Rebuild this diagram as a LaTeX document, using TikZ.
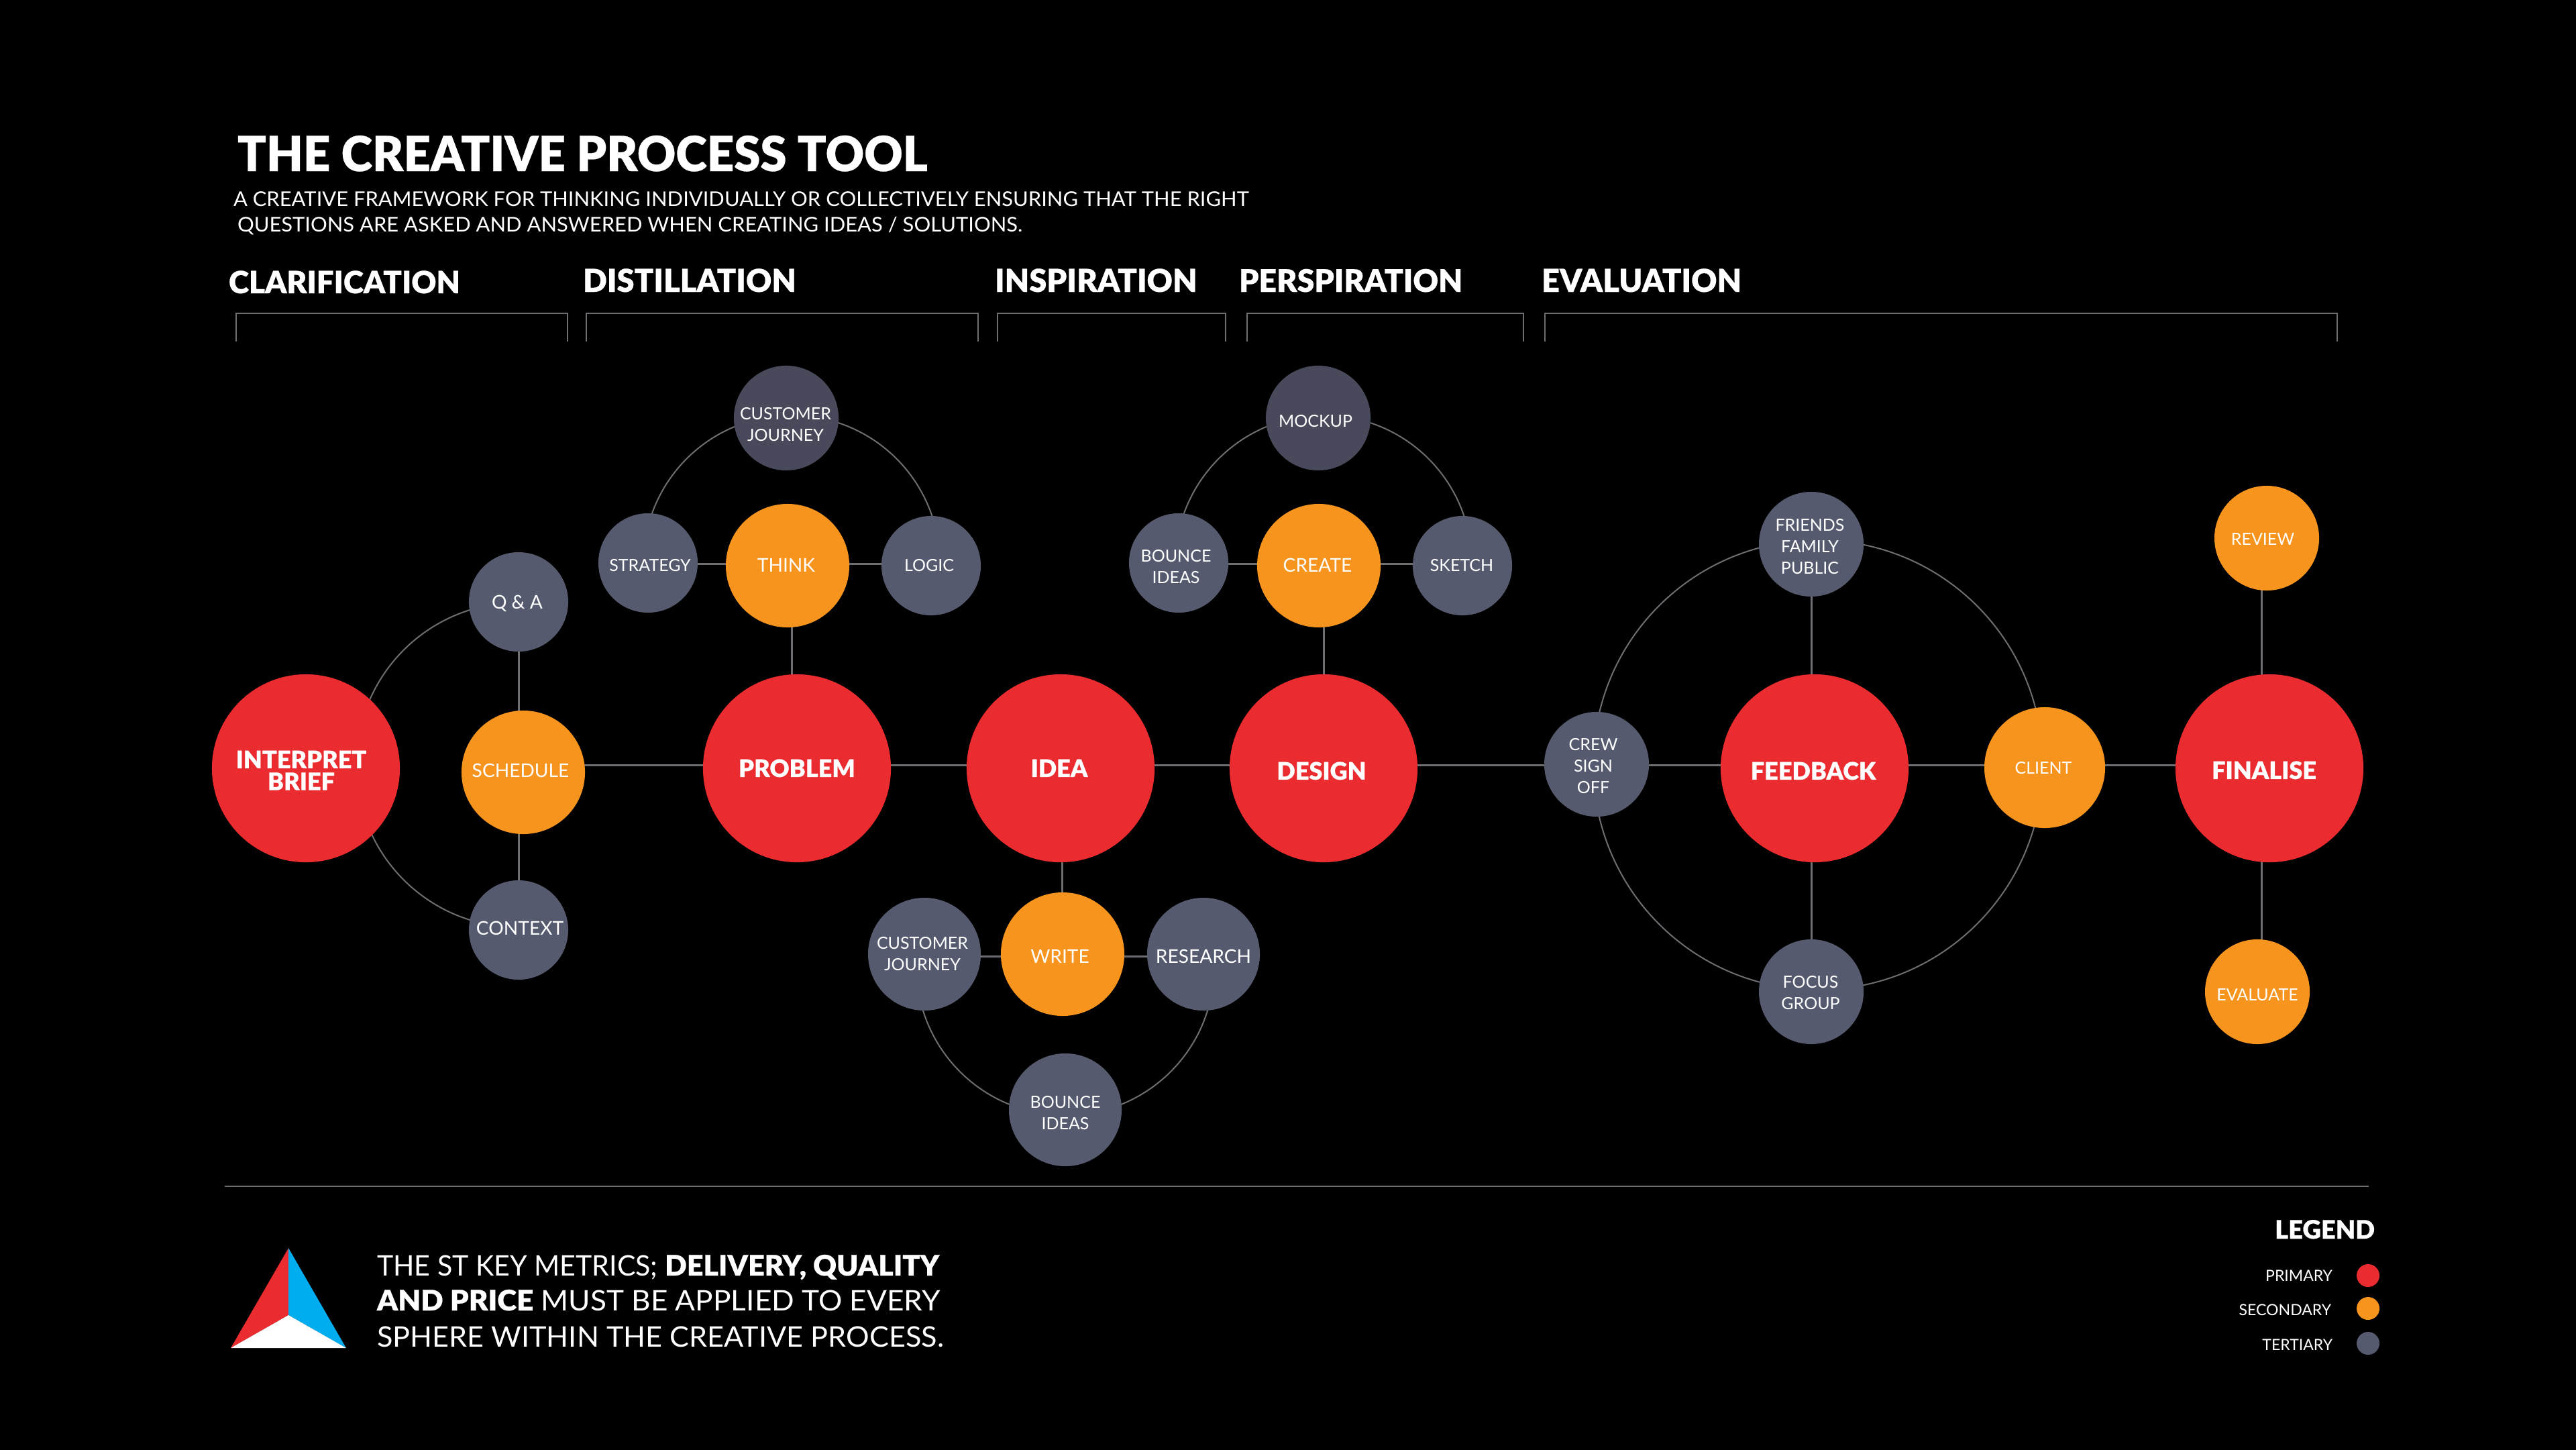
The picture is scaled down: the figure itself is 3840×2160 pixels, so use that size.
\documentclass[tikz,border=0pt]{standalone}
\usepackage{fontspec}
\usetikzlibrary{backgrounds,calc}
\setmainfont{Lato}
\newfontfamily\blk[FakeBold=0.4]{Lato Black}
\newfontfamily\blkn[FakeBold=0.4,FakeStretch=0.98]{Lato Black}
\newfontfamily\blka[FakeBold=0.4,FakeStretch=1.02]{Lato Black}
\newfontfamily\blkb[FakeBold=0.4,FakeStretch=1.04]{Lato Black}
\newfontfamily\lgt[FakeStretch=1.022]{Lato}
\newfontfamily\mta[FakeStretch=0.975]{Lato}
\newfontfamily\mtb[FakeStretch=1.047]{Lato}
\newfontfamily\mtc[FakeStretch=1.024]{Lato}
\definecolor{cred}{HTML}{EA2B2F}
\definecolor{corange}{HTML}{F7941E}
\definecolor{cgrey}{HTML}{565A6E}
\definecolor{cdark}{HTML}{484A5C}
\definecolor{cline}{HTML}{6D6E71}
\definecolor{cblue}{HTML}{00AEEF}
\newdimen\px \px=0.01cm
\newcommand\lbl[3]{\raisebox{\dimexpr-0.36em-(#2\px)-\px\relax}[0pt][0pt]{\makebox[0pt]{\kern\dimexpr#1\px*2\relax\begin{tabular}[t]{@{}c@{}}#3\end{tabular}}}}
\tikzset{
  ball/.style={circle,inner sep=0pt,outer sep=0pt,draw=none,text=white},
  prim/.style={ball,fill=cred,minimum size=2.8cm,font=\blk\fontsize{10.24}{9.4}\selectfont},
  sec/.style={ball,fill=corange,minimum size=1.84cm,font=\fontsize{8}{9.1}\selectfont},
  secs/.style={ball,fill=corange,minimum size=1.56cm,font=\fontsize{7.11}{9.1}\selectfont},
  ter/.style={ball,fill=cgrey,minimum size=1.48cm,font=\fontsize{7.11}{9.1}\selectfont},
  terb/.style={ball,fill=cgrey,minimum size=1.56cm,font=\fontsize{7.11}{9.1}\selectfont},
  terc/.style={ball,fill=cgrey,minimum size=1.68cm,font=\fontsize{7.11}{9.1}\selectfont},
  terd/.style={ball,fill=cdark,minimum size=1.56cm,font=\fontsize{7.11}{9.1}\selectfont},
  link/.style={draw=cline,line width=0.03cm},
  arcl/.style={draw=cline,line width=0.02cm},
  brk/.style={draw=cline,line width=0.02cm},
  txt/.style={inner sep=0pt,outer sep=0pt,text=white,anchor=base west},
  sect/.style={txt,font=\blk\fontsize{13.4}{14}\selectfont},
  subt/.style={txt,font=\lgt\fontsize{8.6}{10}\selectfont},
  metr/.style={txt,font=\fontsize{12}{14}\selectfont},
  lgd/.style={inner sep=0pt,outer sep=0pt,text=white,anchor=base east,font=\fontsize{6.55}{8}\selectfont},
  dot/.style={circle,inner sep=0pt,outer sep=0pt,minimum size=0.34cm},
}
\begin{document}
\begin{tikzpicture}[x=0.01cm,y=-0.01cm]
\useasboundingbox (0,0) rectangle (3840,2160);
\begin{pgfonlayer}{background}
\fill[black] (-10,-10) rectangle (3850,2170);
\end{pgfonlayer}
% heading
\node[txt,font=\blkn\fontsize{20.5}{24}\selectfont] (title) at (354,255) {THE CREATIVE PROCESS TOOL};
\node[subt] (sub1) at (348,307) {A CREATIVE FRAMEWORK FOR THINKING INDIVIDUALLY OR COLLECTIVELY ENSURING THAT THE RIGHT};
\node[subt] (sub2) at (354,345) {QUESTIONS ARE ASKED AND ANSWERED WHEN CREATING IDEAS / SOLUTIONS.};
\node[sect,font=\blk\fontsize{13}{14}\selectfont] (s1) at (341,437) {CLARIFICATION};
\node[sect] (s2) at (869,435) {DISTILLATION};
\node[sect] (s3) at (1483,435) {INSPIRATION};
\node[sect,font=\blk\fontsize{13.2}{14}\selectfont] (s4) at (1847,435) {PERSPIRATION};
\node[sect] (s5) at (2298,435) {EVALUATION};
\draw[brk] (352,509) -- (352,467) -- (845.5,467) -- (845.5,509);
\draw[brk] (874,509) -- (874,467) -- (1458,467) -- (1458,509);
\draw[brk] (1486.5,509) -- (1486.5,467) -- (1827,467) -- (1827,509);
\draw[brk] (1858.5,509) -- (1858.5,467) -- (2270.5,467) -- (2270.5,509);
\draw[brk] (2303,509) -- (2303,467) -- (3483.5,467) -- (3483.5,509);
% primary
\node[prim] (brief) at (456,1145) {\lbl{-7}{-14}{INTERPRET\\[-1pt]BRIEF}};
\node[prim] (problem) at (1188,1145) {\lbl{0}{-1}{PROBLEM}};
\node[prim] (idea) at (1581,1145) {\lbl{-2}{-1}{IDEA}};
\node[prim] (design) at (1973,1145) {\lbl{-3}{3}{DESIGN}};
\node[prim] (feedback) at (2705,1145) {\lbl{-2}{3}{FEEDBACK}};
\node[prim] (finalise) at (3383,1145) {\lbl{-8}{2}{FINALISE}};
% secondary
\node[sec] (schedule) at (780,1151) {\lbl{-4}{-4}{SCHEDULE}};
\node[sec] (think) at (1174,843) {\lbl{-2}{-2}{THINK}};
\node[sec] (write) at (1584,1422) {\lbl{-4}{2}{WRITE}};
\node[sec] (create) at (1966,843) {\lbl{-2}{-2}{CREATE}};
\node[sec,minimum size=1.8cm,font=\fontsize{7.11}{9.1}\selectfont] (client) at (3048,1144) {\lbl{-2}{-1}{CLIENT}};
\node[secs] (review) at (3379,802) {\lbl{-6}{0}{REVIEW}};
\node[secs] (evaluate) at (3365,1478) {\lbl{0}{3}{EVALUATE}};
% tertiary
\node[ter,font=\fontsize{8}{9.1}\selectfont] (qa) at (773,897) {\lbl{-2}{-1}{Q \& A}};
\node[ter,font=\fontsize{8}{9.1}\selectfont] (context) at (773,1386) {\lbl{2}{-4}{CONTEXT}};
\node[terd] (cj1) at (1172,623) {\lbl{-1}{-8}{CUSTOMER\\JOURNEY}};
\node[ter] (strategy) at (966,839) {\lbl{3}{2}{STRATEGY}};
\node[ter] (logic) at (1388,843) {\lbl{-3}{-2}{LOGIC}};
\node[terd] (mockup) at (1965,623) {\lbl{-4}{3}{MOCKUP}};
\node[ter] (bounce1) at (1757,839) {\lbl{-4}{-12}{BOUNCE\\IDEAS}};
\node[ter] (sketch) at (2180,843) {\lbl{-1}{-2}{SKETCH}};
\node[terc] (cj2) at (1378,1422) {\lbl{-3}{-18}{CUSTOMER\\JOURNEY}};
\node[terc,font=\fontsize{8}{9.1}\selectfont] (research) at (1794,1422) {\lbl{0}{2}{RESEARCH}};
\node[terc] (bounce2) at (1588,1654) {\lbl{0}{-13}{BOUNCE\\IDEAS}};
\node[terb] (crew) at (2380,1139) {\lbl{-5}{-31}{CREW\\SIGN\\OFF}};
\node[terb] (friends) at (2700,811) {\lbl{-2}{-30}{FRIENDS\\FAMILY\\PUBLIC}};
\node[terb] (focus) at (2700,1478) {\lbl{-1}{-16}{FOCUS\\GROUP}};
% connectors
\coordinate (mainy) at (0,1140);
\coordinate (v1) at (773,0);
\coordinate (v2) at (1180,0);
\coordinate (v3) at (1973,0);
\coordinate (v4) at (1583,0);
\coordinate (v5) at (2700,0);
\coordinate (v6) at (3371,0);
\coordinate (u1) at (0,840);
\coordinate (u2) at (0,1425);
\begin{pgfonlayer}{background}
\draw[link] (schedule |- mainy) -- (problem |- mainy) -- (idea |- mainy) -- (design |- mainy) -- (crew |- mainy) -- (feedback |- mainy) -- (client |- mainy) -- (finalise |- mainy);
\draw[link] (v1 |- qa) -- (v1 |- schedule) -- (v1 |- context);
\draw[link] (v2 |- think) -- (v2 |- problem);
\draw[link] (v3 |- create) -- (v3 |- design);
\draw[link] (v4 |- idea) -- (v4 |- write);
\draw[link] (v5 |- friends) -- (v5 |- feedback) -- (v5 |- focus);
\draw[link] (v6 |- review) -- (v6 |- finalise) -- (v6 |- evaluate);
\draw[link] (strategy |- u1) -- (think |- u1) -- (logic |- u1);
\draw[link] (bounce1 |- u1) -- (create |- u1) -- (sketch |- u1);
\draw[link] (cj2 |- u2) -- (write |- u2) -- (research |- u2);
% arcs
\draw[arcl] ($(brief)+(75,-5)$) to[out=90,in=180] ($(qa)+(0,1)$);
\draw[arcl] ($(brief)+(75,-5)$) to[out=-90,in=180] ($(context)+(0,-4)$);
\draw[arcl] ($(strategy)+(-7,1)$) to[out=90,in=180] ($(cj1)+(8,-4)$) to[out=0,in=90] ($(logic)+(13,-3)$);
\draw[arcl] ($(bounce1)+(-5,1)$) to[out=90,in=180] ($(mockup)+(8,-4)$) to[out=0,in=90] ($(sketch)+(14,-3)$);
\draw[arcl] ($(cj2)+(-12,18)$) to[out=-90,in=180] ($(bounce2)+(0,8)$) to[out=0,in=-90] ($(research)+(16,18)$);
\draw[arcl] ($(crew)+(-5,1)$) to[out=90,in=180] ($(friends)+(10,-6)$) to[out=0,in=90] ($(client)+(-3,-4)$);
\draw[arcl] ($(crew)+(-5,1)$) to[out=-90,in=180] ($(focus)+(10,-3)$) to[out=0,in=-90] ($(client)+(-3,-4)$);
\end{pgfonlayer}
% footer
\draw[draw=cline,line width=0.02cm] (335,1768) -- (3531,1768);
\coordinate (apex) at (430,1860);
\coordinate (tl) at (344,2009);
\coordinate (tr) at (516,2009);
\coordinate (tm) at (430,1960);
\fill[cred] (apex) -- (tm) -- (tl) -- cycle;
\fill[cblue] (apex) -- (tm) -- (tr) -- cycle;
\fill[white] (tm) -- (tl) -- (tr) -- cycle;
\node[metr] (m1) at (562,1901) {\mta THE ST KEY METRICS; {\blka DELIVERY, QUALITY}};
\node[metr] (m2) at (562,1953) {\mtb{\blkb AND PRICE} MUST BE APPLIED TO EVERY};
\node[metr] (m3) at (562,2007) {\mtc SPHERE WITHIN THE CREATIVE PROCESS.};
\node[inner sep=0pt,outer sep=0pt,text=white,anchor=base east,font=\blk\fontsize{10.8}{12}\selectfont] (legend) at (3540,1846) {LEGEND};
\node[lgd] (l1) at (3477,1909) {PRIMARY};
\node[lgd] (l2) at (3475,1960) {SECONDARY};
\node[lgd] (l3) at (3477,2012) {TERTIARY};
\node[dot,fill=cred] (d1) at (3530,1901) {};
\node[dot,fill=corange] (d2) at (3530,1950) {};
\node[dot,fill=cgrey] (d3) at (3530,2002) {};
\end{tikzpicture}
\end{document}
